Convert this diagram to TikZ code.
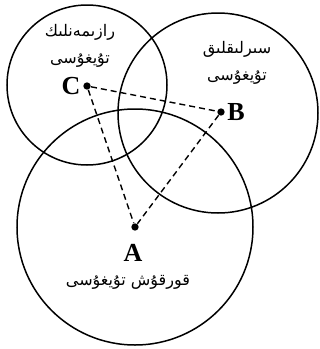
\documentclass[tikz,border=0pt]{standalone}
\usepackage{fontspec}
\setmainfont{Liberation Serif}
\newfontfamily\arabicfont[Script=Arabic]{DejaVu Sans}
\TeXXeTstate=1

\tikzset{
  sense/.style={draw, line width=0.75pt},
  centre/.style={circle, fill, inner sep=1.3pt},
  letter/.style={font=\fontsize{13}{14}\selectfont\bfseries, inner sep=1pt},
  feeling/.style={font=\arabicfont\fontsize{8}{13.5}\selectfont, align=center},
  link/.style={line width=0.7pt, dash pattern=on 3pt off 2pt},
}

\begin{document}
\begin{tikzpicture}[x=0.5pt,y=-0.5pt]
        \useasboundingbox (0,0) rectangle (320,349);

        % the three circles
        \draw[sense] (135,227) circle (59pt);
        \draw[sense] (87,85) circle (40pt);
        \draw[sense] (218,113) circle (50pt);

        % centres
        \node[centre] (A) at (135,227) {};
        \node[centre] (B) at (221,112) {};
        \node[centre] (C) at (87,86) {};

        \draw[link] (C) -- (B);
        \draw[link] (C) -- (A);
        \draw[link] (B) -- (A);

        \node[letter, anchor=east] (labelC) at (C.west) {C};
        \node[letter, anchor=west] (labelB) at (B.east) {B};
        \node[letter] (labelA) at (133,253) {A};

        \node[feeling] (senseC) at (80,46) {\beginR رازىمەنلىك\endR\\\beginR تۇيغۇسى\endR};
        \node[feeling] (senseB) at (237,63) {\beginR سىرلىقلىق\endR\\\beginR تۇيغۇسى\endR};
        \node[feeling] (senseA) at (128,282) {\beginR قورقۇش تۇيغۇسى\endR};
    \end{tikzpicture}
\end{document}
